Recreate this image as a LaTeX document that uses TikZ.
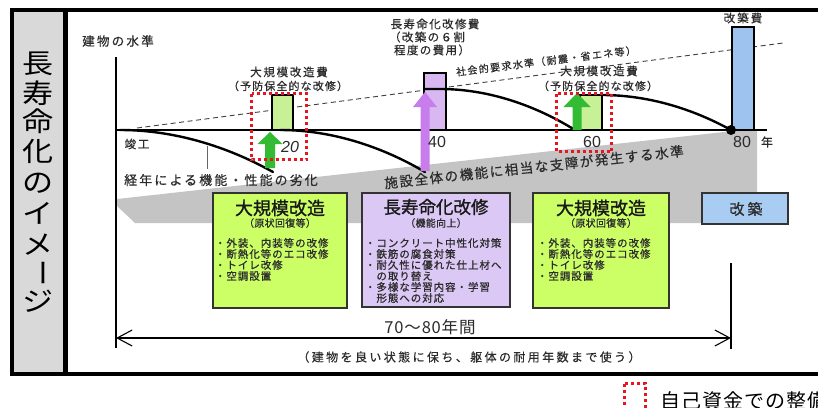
\documentclass[tikz,border=0pt]{standalone}
\usepackage{fontspec}
\setmainfont{Noto Sans CJK JP}
\newfontfamily\arialf{Liberation Sans}
\usetikzlibrary{arrows.meta}
\newcommand\fsz[1]{\fontsize{#1pt}{#1pt}\selectfont}
\newcommand\lsp[1]{\addfontfeature{LetterSpace=#1}}
\newcommand\fbold[1]{\addfontfeature{FakeBold=#1}}
\definecolor{panelgray}{HTML}{D9D9D9}
\definecolor{wedge}{HTML}{C4C4C4}
\definecolor{barGreen}{HTML}{C8F096}
\definecolor{boxGreen}{HTML}{CCFF66}
\definecolor{barPurple}{HTML}{D9B8F2}
\definecolor{boxPurple}{HTML}{DCC8F5}
\definecolor{arrPurple}{HTML}{C77DEB}
\definecolor{arrGreen}{HTML}{33BB33}
\definecolor{barBlue}{HTML}{9DC3EE}
\definecolor{boxBlue}{HTML}{A9CDF2}
\definecolor{redDot}{HTML}{E8141E}
\definecolor{ink}{HTML}{2B2B2B}
% #1 x, #2 y bottom, #3 y tip, #4 shaft half width, #5 head half width, #6 head length, #7 colour
\newcommand\fatup[7]{%
  \fill[#7] (#1-#4,#2) -- (#1-#4,#3+#6) -- (#1-#5,#3+#6) -- (#1,#3) --
    (#1+#5,#3+#6) -- (#1+#4,#3+#6) -- (#1+#4,#2) -- cycle;}
\tikzset{
  lbl/.style={inner sep=0pt, outer sep=0pt, text=ink},
  titlechar/.style={inner sep=0pt, text=black, font=\fsz{27}, xscale=1.15},
  barbox/.style={draw=black, line width=1.3pt},
  curve/.style={line width=2.4pt, line cap=round},
  redbox/.style={draw=redDot, line width=3pt, dash pattern=on 3pt off 3pt},
  infobox/.style={draw=black!80, line width=1.5pt},
  boxtitle/.style={lbl, text=black!90, font={\fsz{18}\fbold{1.2}}},
  boxsub/.style={lbl, font={\fsz{10}\lsp{3}\fbold{0.6}}},
  bullet/.style={lbl, anchor=west, font={\fsz{10.5}\lsp{9}\fbold{0.7}}},
  axisline/.style={draw=black, line width=1.1pt},
}
\begin{document}
\begin{tikzpicture}[x=1pt,y=-1pt]
\useasboundingbox (0,0) rectangle (818,407);
\fill[white] (0,0) rectangle (818,407);
% frame
\draw[line width=4.5pt, fill=white] (12,10) rectangle (840,374);
\draw[line width=4.5pt, fill=panelgray] (12,10) rectangle (65.5,374);
% vertical title
\node[titlechar] (t1) at (38,64) {長};
\node[titlechar] (t2) at (38,93) {寿};
\node[titlechar] (t3) at (38,121) {命};
\node[titlechar] (t4) at (38,151) {化};
\node[titlechar] (t5) at (38,183) {の};
\node[titlechar] (t6) at (38,213) {イ};
\node[titlechar] (t7) at (38,245) {メ};
\node[titlechar, rotate=-90] (t8) at (38,273) {ー};
\node[titlechar] (t9) at (38,301) {ジ};
% gray wedge
\fill[wedge] (117,199) -- (733,131) -- (757,131) -- (757,223) -- (135,223) -- (117,206) -- cycle;
\node[lbl, rotate=6.2, font={\fsz{13.5}\lsp{12}\fbold{0.5}}] (lvlTxt) at (534,167) {施設全体の機能に相当な支障が発生する水準};
% axes
\coordinate (yTop) at (116,57);
\coordinate (yBot) at (116,348);
\coordinate (o) at (116,130);
\coordinate (xEnd) at (767,130);
\draw[axisline] (yTop) -- (yBot);
\draw[axisline] (o) -- (xEnd);
% dashed social requirement line
\coordinate (dashA) at (137,128);
\coordinate (dashB) at (783,43);
\draw[draw=black!75, line width=0.9pt, dash pattern=on 5pt off 3.5pt] (dashA) -- (dashB);
\node[lbl, rotate=7, font={\fsz{10}\lsp{14}\fbold{0.4}}] (socTxt) at (546,61) {社会的要求水準（耐震・省エネ等）};
% bars
\draw[barbox, fill=barGreen] (272,95) rectangle (293,130);
\draw[barbox, fill=barPurple] (424,73) rectangle (446,130);
\draw[barbox, fill=barGreen] (580,95) rectangle (602,130);
\draw[barbox, fill=barBlue] (732,27) rectangle (754,130);
% curves
\coordinate (c1s) at (120,130); \coordinate (c1e) at (273,172);
\coordinate (c2s) at (280,130); \coordinate (c2e) at (425,172);
\coordinate (c3a) at (425,89); \coordinate (c3s) at (440,89); \coordinate (c3e) at (575,130);
\coordinate (c4s) at (602,95); \coordinate (c4e) at (731,130);
\draw[curve] (c1s) parabola (c1e);
\draw[curve] (c2s) parabola (c2e);
\draw[curve] (c3a) -- (c3s) parabola (c3e);
\draw[curve] (c4s) parabola (c4e);
\fill[black] (c4e) circle (5);
% leader
\coordinate (ldTop) at (207,146); \coordinate (ldBot) at (207,169);
\draw[draw=black!60, line width=1pt] (ldTop) -- (ldBot);
% fat arrows
\fatup{270}{168}{132}{5}{12.5}{12}{arrGreen}
\fatup{425}{171}{92}{4.5}{12}{15}{arrPurple}
\fatup{577}{130}{93}{4.5}{13.5}{14}{arrGreen}
% red dotted boxes
\draw[redbox] (251.5,93.5) rectangle (306.5,159.5);
\draw[redbox] (556.5,93.5) rectangle (611.5,151.5);
% labels
\node[lbl, font={\fsz{12.5}\lsp{18}\fbold{0.4}}] (lvl) at (118,41) {建物の水準};
\node[lbl, font={\fsz{11.5}\lsp{15}\fbold{0.4}}] (cost1) at (289,72) {大規模改造費};
\node[lbl, font={\fsz{11}\lsp{10}\fbold{0.4}}] (cost1b) at (288,86) {（予防保全的な改修）};
\node[lbl, font={\fsz{11.5}\lsp{15}\fbold{0.4}}] (cost3) at (599,71) {大規模改造費};
\node[lbl, font={\fsz{11}\lsp{10}\fbold{0.4}}] (cost3b) at (598,86) {（予防保全的な改修）};
\node[lbl, font={\fsz{11.5}\lsp{12}\fbold{0.4}}] (cost2) at (435,24) {長寿命化改修費};
\node[lbl, font={\fsz{11.5}\lsp{12}\fbold{0.4}}] (cost2b) at (427,37) {（改築の６割};
\node[lbl, font={\fsz{11.5}\lsp{12}\fbold{0.4}}] (cost2c) at (432,50) {程度の費用）};
\node[lbl, font={\fsz{11.5}\lsp{18}\fbold{0.4}}] (cost4) at (743,18) {改築費};
\node[lbl, font={\fsz{11.5}\lsp{15}\fbold{0.4}}] (kanko) at (137,144) {竣工};
\node[lbl, font={\fsz{13}\lsp{16}\fbold{0.4}}] (deg) at (221,180) {経年による機能・性能の劣化};
\node[lbl, font={\arialf\itshape\fsz{16}}] (y20) at (290,147) {20};
\node[lbl, font={\arialf\fsz{16}}] (y40) at (437,142) {40};
\node[lbl, font={\arialf\fsz{16}}] (y60) at (592,142) {60};
\node[lbl, font={\arialf\fsz{16}}] (y80) at (742,142) {80};
\node[lbl, font={\fsz{12}\fbold{0.4}}] (nen) at (767,142) {年};
% boxes
\draw[infobox, fill=boxGreen] (213,193) rectangle (347,308);
\node[boxtitle] (g1t) at (280,208) {大規模改造};
\node[boxsub] (g1s) at (280,223) {（原状回復等）};
\node[bullet] (g1a) at (215,243) {・外装、内装等の改修};
\node[bullet] (g1b) at (215,254) {・断熱化等のエコ改修};
\node[bullet] (g1c) at (215,265) {・トイレ改修};
\node[bullet] (g1d) at (215,276) {・空調設置};
\draw[infobox, fill=boxPurple] (362,193) rectangle (510,307);
\node[boxtitle, font={\fsz{17.5}\fbold{1.2}}] (pt) at (436,207) {長寿命化改修};
\node[boxsub] (ps) at (436,223) {（機能向上）};
\node[bullet] (pa) at (365,243) {・コンクリート中性化対策};
\node[bullet] (pb) at (365,254) {・鉄筋の腐食対策};
\node[bullet] (pc) at (365,265) {・耐久性に優れた仕上材へ};
\node[bullet] (pd) at (365,276) {　の取り替え};
\node[bullet] (pe) at (365,287) {・多様な学習内容・学習};
\node[bullet] (pf) at (365,298) {　形態への対応};
\draw[infobox, fill=boxGreen] (533,193) rectangle (669,308);
\node[boxtitle] (g2t) at (601,208) {大規模改造};
\node[boxsub] (g2s) at (601,223) {（原状回復等）};
\node[bullet] (g2a) at (537,243) {・外装、内装等の改修};
\node[bullet] (g2b) at (537,254) {・断熱化等のエコ改修};
\node[bullet] (g2c) at (537,265) {・トイレ改修};
\node[bullet] (g2d) at (537,276) {・空調設置};
\draw[infobox, fill=boxBlue] (702,193) rectangle (788,224);
\node[lbl, font={\fsz{15}\lsp{20}\fbold{0.8}}] (kc) at (746,209) {改築};
% span arrow
\coordinate (spanL) at (116,338);
\coordinate (spanR) at (731,338);
\coordinate (rTop) at (731,263); \coordinate (rBot) at (731,349);
\draw[axisline] (rTop) -- (rBot);
\draw[axisline, {Straight Barb[length=15pt,width=16pt]}-{Straight Barb[length=15pt,width=16pt]}] (spanL) -- (spanR);
\node[lbl, font={\fsz{16.5}\lsp{5}}] (span) at (430,327) {70～80年間};
\node[lbl, font={\fsz{12}\lsp{20}\fbold{0.4}}] (spanNote) at (469,357) {（建物を良い状態に保ち、躯体の耐用年数まで使う）};
% legend
\draw[redbox] (624.5,383.5) rectangle (645.5,412);
\node[lbl, anchor=west, text=black, font={\fsz{20}\lsp{5}}] (leg) at (660,401) {自己資金での整備};
\end{tikzpicture}
\end{document}
